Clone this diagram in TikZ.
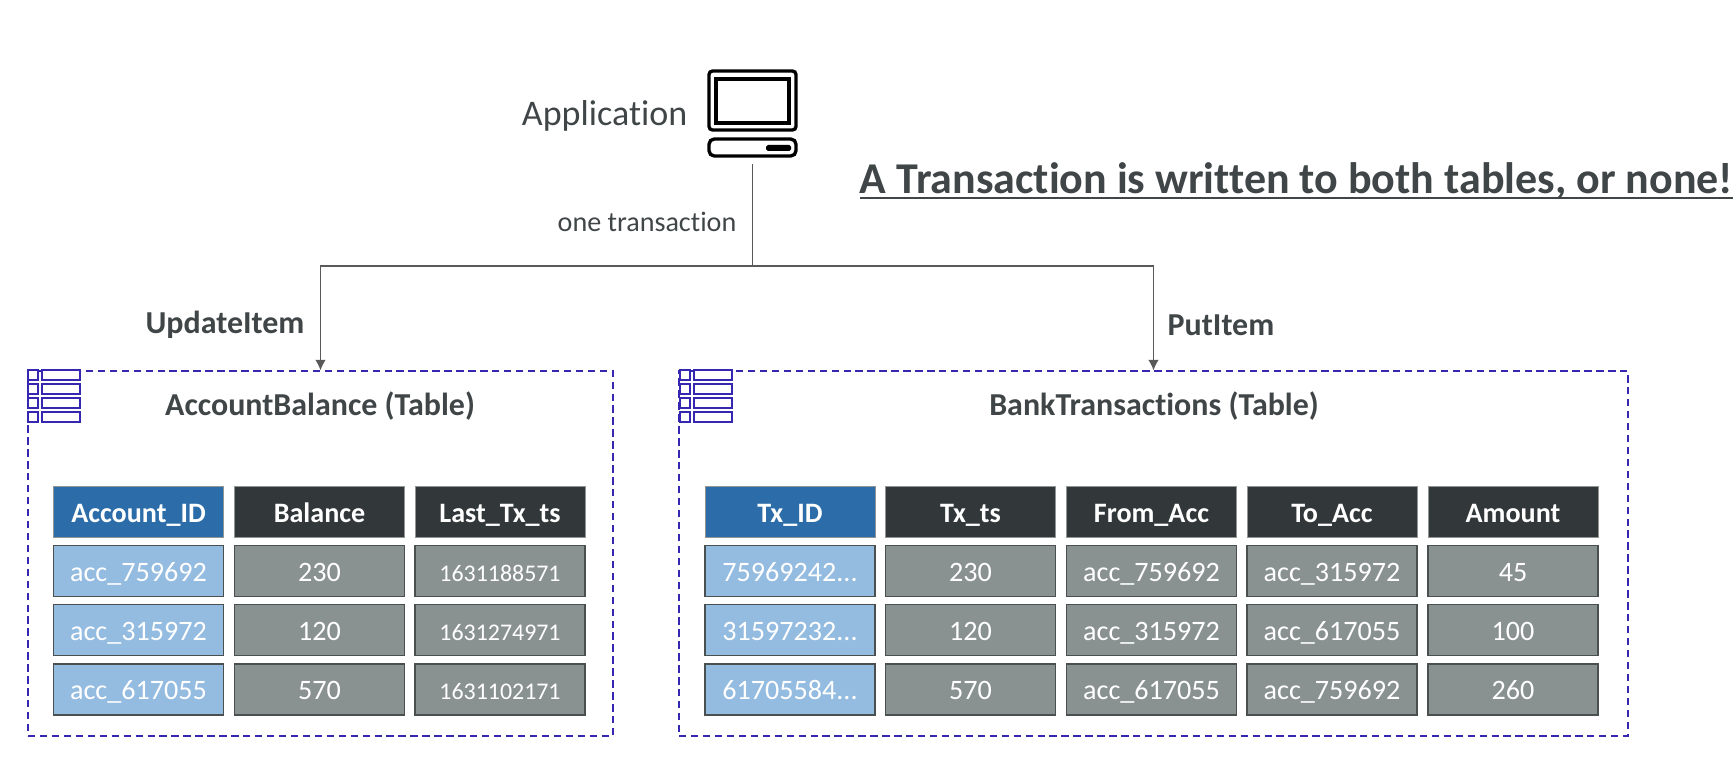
\documentclass[tikz,border=0pt]{standalone}
\usepackage{fontspec}
\setmainfont[Ligatures=NoCommon]{Carlito}
\usetikzlibrary{arrows.meta}
\definecolor{key_head}{HTML}{2B6CA9}
\definecolor{attr_head}{HTML}{32373A}
\definecolor{key_fill}{HTML}{94BBE0}
\definecolor{attr_fill}{HTML}{8A9291}
\definecolor{cell_line}{HTML}{4A4F50}
\definecolor{table_line}{HTML}{3527B0}
\definecolor{label_text}{HTML}{404647}
\definecolor{link_line}{HTML}{595959}
\newcommand{\titleline}[1]{\setbox0\hbox{#1}\rlap{\rule[-3pt]{\wd0}{1.4pt}}\box0}

\begin{document}
\begin{tikzpicture}[
    x=0.02cm, y=-0.02cm,
    % Styles for the table cells
    head_cell/.style = {
        draw=cell_line!60,
        line width=0.5pt,
        minimum width=3.4cm,
        minimum height=1.02cm,
        inner sep=0,
        text=white,
        text height=13pt,
        text depth=1.5pt,
        font=\fontsize{16}{19}\selectfont\bfseries
    },
    key_headcell/.style = {head_cell, fill=key_head},
    attr_headcell/.style = {head_cell, fill=attr_head},
    data_cell/.style = {
        draw=cell_line,
        line width=1pt,
        minimum width=3.4cm,
        minimum height=1.02cm,
        inner sep=0,
        text=white,
        text height=13pt,
        text depth=1.5pt,
        font=\fontsize{16}{19}\selectfont
    },
    key_cell/.style = {data_cell, fill=key_fill},
    attr_cell/.style = {data_cell, fill=attr_fill},
    stamp_cell/.style = {attr_cell, font=\fontsize{13.6}{16}\selectfont},
    table_box/.style = {draw=table_line, line width=0.8pt, dash pattern=on 4.2pt off 2.6pt},
    icon_part/.style = {draw=table_line, line width=1pt, fill=white},
    screen_part/.style = {draw=black, line width=1.9pt, rounded corners=2pt},
    link/.style = {draw=link_line, line width=0.6pt},
    bold_label/.style = {text=label_text, font=\fontsize{18.2}{22}\selectfont\bfseries}
]
\useasboundingbox (0,0) rectangle (1735,757);

% 1. Application and its computer
\node[text=label_text, font=\fontsize{20.5}{24}\selectfont, anchor=east] (app_label) at (693.5,116) {Application};
\draw[screen_part] (709,71) rectangle (796,130);
\draw[screen_part, rounded corners=0pt] (716,79) rectangle (789,123);
\draw[screen_part, rounded corners=3pt] (709,139) rectangle (796,156);
\fill[black, rounded corners=1pt] (766,145) rectangle (791,151);

% 2. Title
\node[text=label_text, font=\fontsize{25.05}{30}\selectfont\bfseries, anchor=base west, inner sep=0] (title) at (859.5,194) {\titleline{A Transaction is written to both tables, or none!}};

% 3. Table boxes
\node[table_box, minimum width=11.7cm, minimum height=7.3cm, inner sep=0] (box_balance) at (320.5,553.5) {};
\node[table_box, minimum width=18.98cm, minimum height=7.3cm, inner sep=0] (box_tx) at (1153.5,553.5) {};

% Icons of the tables
\foreach \ox in {27,679} {
    \foreach \oy in {369,383,397,411} {
        \draw[icon_part] (\ox+1,\oy+1) rectangle (\ox+11,\oy+11);
        \draw[icon_part] (\ox+15,\oy+1) rectangle (\ox+53,\oy+11);
    }
}

% 4. Connectors
\coordinate (app_out) at (752.5,164);
\coordinate (app_split) at (752.5,266);
\coordinate (in_balance) at (box_balance.north);
\coordinate (in_tx) at (box_tx.north);
\draw[link] (app_out) -- (app_split);
\draw[link, -{Latex[length=6pt,width=6pt]}] (app_split) -| (in_balance);
\draw[link, -{Latex[length=6pt,width=6pt]}] (app_split) -| (in_tx);

% 5. Labels
\node[text=label_text, font=\fontsize{16}{19}\selectfont] (one_label) at (647,222) {one transaction};
\node[bold_label] (update_label) at (225,325) {UpdateItem};
\node[bold_label] (put_label) at (1221,325) {PutItem};
\node[bold_label] (balance_title) at (320,406) {AccountBalance (Table)};
\node[bold_label] (tx_title) at (1154,406) {BankTransactions (Table)};

% 6. AccountBalance cells
\node[key_headcell] (ab_h1) at (138.5,512) {Account\_ID};
\node[attr_headcell] (ab_h2) at (319.5,512) {Balance};
\node[attr_headcell] (ab_h3) at (500,512) {Last\_Tx\_ts};

\node[key_cell] (ab_a1) at (138.5,571) {acc\_759692};
\node[attr_cell] (ab_b1) at (319.5,571) {230};
\node[stamp_cell] (ab_c1) at (500,571) {1631188571};

\node[key_cell] (ab_a2) at (138.5,630) {acc\_315972};
\node[attr_cell] (ab_b2) at (319.5,630) {120};
\node[stamp_cell] (ab_c2) at (500,630) {1631274971};

\node[key_cell] (ab_a3) at (138.5,689.5) {acc\_617055};
\node[attr_cell] (ab_b3) at (319.5,689.5) {570};
\node[stamp_cell] (ab_c3) at (500,689.5) {1631102171};

% 7. BankTransactions cells
\node[key_headcell] (bt_h1) at (790,512) {Tx\_ID};
\node[attr_headcell] (bt_h2) at (970.5,512) {Tx\_ts};
\node[attr_headcell] (bt_h3) at (1151.5,512) {From\_Acc};
\node[attr_headcell] (bt_h4) at (1332,512) {To\_Acc};
\node[attr_headcell] (bt_h5) at (1513,512) {Amount};

\node[key_cell] (bt_a1) at (790,571) {75969242...};
\node[attr_cell] (bt_b1) at (970.5,571) {230};
\node[attr_cell] (bt_c1) at (1151.5,571) {acc\_759692};
\node[attr_cell] (bt_d1) at (1332,571) {acc\_315972};
\node[attr_cell] (bt_e1) at (1513,571) {45};

\node[key_cell] (bt_a2) at (790,630) {31597232...};
\node[attr_cell] (bt_b2) at (970.5,630) {120};
\node[attr_cell] (bt_c2) at (1151.5,630) {acc\_315972};
\node[attr_cell] (bt_d2) at (1332,630) {acc\_617055};
\node[attr_cell] (bt_e2) at (1513,630) {100};

\node[key_cell] (bt_a3) at (790,689.5) {61705584...};
\node[attr_cell] (bt_b3) at (970.5,689.5) {570};
\node[attr_cell] (bt_c3) at (1151.5,689.5) {acc\_617055};
\node[attr_cell] (bt_d3) at (1332,689.5) {acc\_759692};
\node[attr_cell] (bt_e3) at (1513,689.5) {260};

\end{tikzpicture}
\end{document}
